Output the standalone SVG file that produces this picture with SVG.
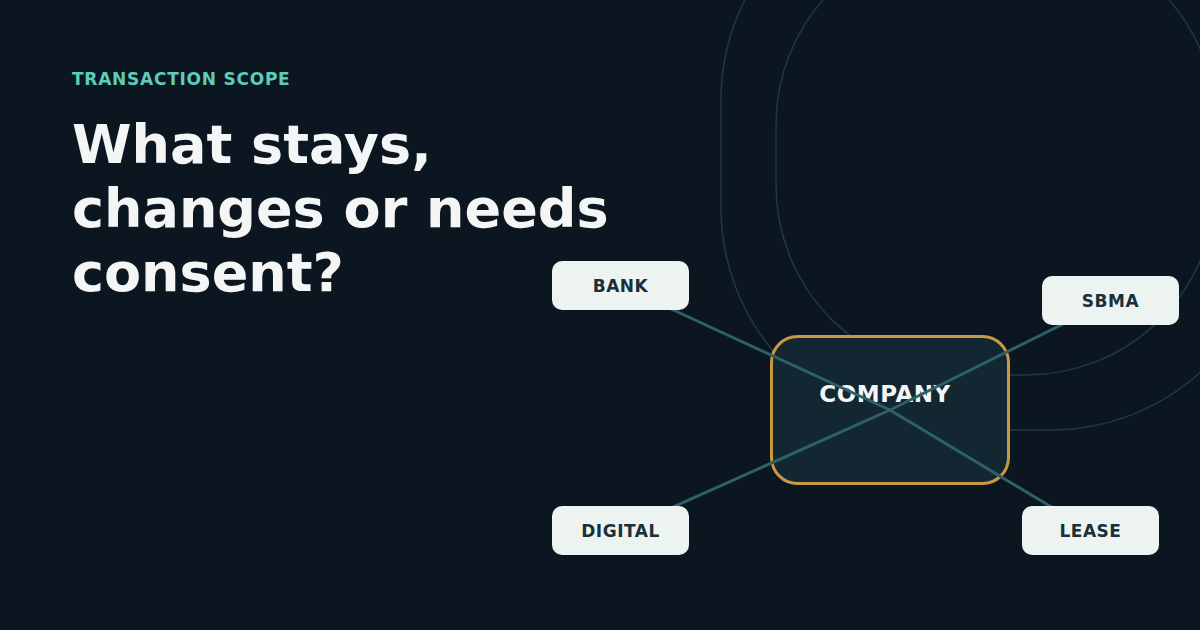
<svg xmlns="http://www.w3.org/2000/svg" width="1200" height="630" viewBox="0 0 1200 630">
  <style>
    .deco { fill: none; stroke: #1c3a42; stroke-width: 1.5; }
    .eyebrow { font-family: "DejaVu Sans", sans-serif; font-weight: bold; font-size: 17px; letter-spacing: 0.75px; fill: #5ccdb8; }
    .title { font-family: "DejaVu Sans", sans-serif; font-weight: bold; font-size: 54px; fill: #f3f6f5; }
    .node rect { fill: #edf3f1; }
    .node text { font-family: "DejaVu Sans", sans-serif; font-weight: bold; font-size: 17px; letter-spacing: 0.5px; fill: #18303a; text-anchor: middle; }
    .hub rect { fill: #132733; stroke: #c8993f; stroke-width: 3; }
    .hub text { font-family: "DejaVu Sans", sans-serif; font-weight: bold; font-size: 23px; letter-spacing: 0.5px; fill: #f3f6f5; text-anchor: middle; }
    .edge { stroke: #2e6067; stroke-width: 3; fill: none; }
  </style>
  <rect width="1200" height="630" fill="#0b1620"/>
  <g id="decor">
    <rect class="deco" x="721" y="-122" width="552" height="552" rx="222"/>
    <rect class="deco" x="776" y="-65" width="440" height="440" rx="190"/>
  </g>
  <g id="heading">
    <text class="eyebrow" x="72" y="85">TRANSACTION SCOPE</text>
    <text class="title" x="72" y="163">What stays,</text>
    <text class="title" x="72" y="227">changes or needs</text>
    <text class="title" x="72" y="291">consent?</text>
  </g>
  <g id="company" class="hub">
    <rect x="771.5" y="336.5" width="237" height="147" rx="26"/>
    <text x="885" y="402">COMPANY</text>
  </g>
  <g id="connectors">
    <line class="edge" x1="890" y1="410" x2="620.5" y2="285.5"/>
    <line class="edge" x1="890" y1="410" x2="1110.5" y2="300.5"/>
    <line class="edge" x1="890" y1="410" x2="620.5" y2="530.5"/>
    <line class="edge" x1="890" y1="410" x2="1090.5" y2="530.5"/>
  </g>
  <g id="bank" class="node">
    <rect x="552" y="261" width="137" height="49" rx="10"/>
    <text x="620.5" y="292">BANK</text>
  </g>
  <g id="sbma" class="node">
    <rect x="1042" y="276" width="137" height="49" rx="10"/>
    <text x="1110.5" y="307">SBMA</text>
  </g>
  <g id="digital" class="node">
    <rect x="552" y="506" width="137" height="49" rx="10"/>
    <text x="620.5" y="537">DIGITAL</text>
  </g>
  <g id="lease" class="node">
    <rect x="1022" y="506" width="137" height="49" rx="10"/>
    <text x="1090.5" y="537">LEASE</text>
  </g>
</svg>
